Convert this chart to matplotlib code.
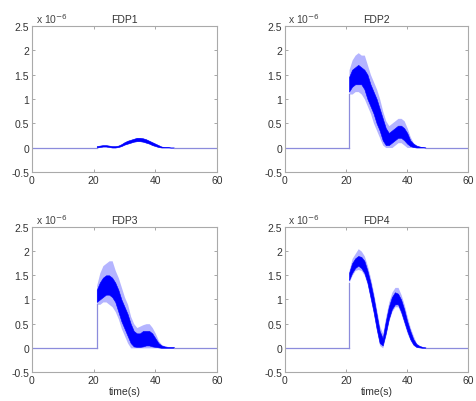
import numpy as np
import matplotlib
matplotlib.use("Agg")
import matplotlib.pyplot as plt

plt.rcParams['font.family'] = ['Liberation Sans', 'DejaVu Sans']

# time knots (s) for the envelopes, values in units of 1e-6
t_env = [21, 22, 23, 24, 25, 26, 27, 28, 29, 30, 31, 32, 33, 34, 35, 36, 37, 38, 39, 40,
         41, 42, 43, 44, 45, 46]

# FDP1
fdp1_lo = [0.00, 0.01, 0.02, 0.02, 0.01, 0.00, 0.00, 0.01, 0.03, 0.06, 0.08, 0.10, 0.12, 0.13,
           0.13, 0.12, 0.10, 0.08, 0.05, 0.03, 0.01, 0.00, 0.00, 0.00, 0.00, 0.00]
fdp1_hi = [0.03, 0.04, 0.05, 0.05, 0.04, 0.03, 0.03, 0.04, 0.07, 0.11, 0.14, 0.16, 0.18, 0.20,
           0.20, 0.19, 0.17, 0.14, 0.11, 0.08, 0.05, 0.02, 0.01, 0.01, 0.00, 0.00]
fdp1_olo = fdp1_lo
fdp1_ohi = fdp1_hi

# FDP2
fdp2_lo = [1.15, 1.25, 1.30, 1.30, 1.30, 1.20, 1.00, 0.85, 0.70, 0.50, 0.35, 0.15, 0.05, 0.05,
           0.10, 0.15, 0.20, 0.20, 0.15, 0.08, 0.03, 0.01, 0.00, 0.00, 0.00, 0.00]
fdp2_hi = [1.45, 1.60, 1.65, 1.70, 1.65, 1.60, 1.50, 1.30, 1.15, 1.00, 0.80, 0.60, 0.40, 0.30,
           0.35, 0.40, 0.45, 0.45, 0.40, 0.30, 0.15, 0.08, 0.04, 0.02, 0.01, 0.00]
fdp2_olo = [1.10, 1.10, 1.15, 1.15, 1.10, 1.00, 0.85, 0.70, 0.50, 0.35, 0.20, 0.05, 0.00, 0.00,
            0.00, 0.05, 0.10, 0.10, 0.05, 0.00, 0.00, 0.00, 0.00, 0.00, 0.00, 0.00]
fdp2_ohi = [1.60, 1.80, 1.90, 1.95, 1.90, 1.90, 1.70, 1.50, 1.35, 1.20, 1.00, 0.75, 0.55, 0.45,
            0.50, 0.55, 0.60, 0.60, 0.55, 0.40, 0.22, 0.10, 0.05, 0.03, 0.01, 0.00]

# FDP3
fdp3_lo = [0.95, 1.00, 1.05, 1.10, 1.10, 1.05, 0.95, 0.75, 0.55, 0.40, 0.25, 0.10, 0.03, 0.02,
           0.02, 0.03, 0.05, 0.05, 0.03, 0.02, 0.01, 0.00, 0.00, 0.00, 0.00, 0.00]
fdp3_hi = [1.20, 1.35, 1.45, 1.50, 1.50, 1.45, 1.35, 1.20, 1.00, 0.85, 0.70, 0.50, 0.35, 0.30,
           0.30, 0.35, 0.35, 0.35, 0.30, 0.20, 0.10, 0.05, 0.03, 0.02, 0.02, 0.02]
fdp3_olo = [0.90, 0.90, 0.95, 0.95, 0.90, 0.85, 0.75, 0.60, 0.40, 0.25, 0.10, 0.00, 0.00, 0.00,
            0.00, 0.00, 0.00, 0.00, 0.00, 0.00, 0.00, 0.00, 0.00, 0.00, 0.00, 0.00]
fdp3_ohi = [1.30, 1.55, 1.70, 1.75, 1.80, 1.80, 1.60, 1.45, 1.25, 1.05, 0.90, 0.65, 0.50, 0.42,
            0.45, 0.48, 0.50, 0.50, 0.42, 0.30, 0.15, 0.07, 0.04, 0.03, 0.02, 0.02]

# FDP4
fdp4_lo = [1.40, 1.55, 1.65, 1.70, 1.65, 1.55, 1.35, 1.05, 0.75, 0.40, 0.10, 0.05, 0.30, 0.60,
           0.80, 0.90, 0.90, 0.75, 0.55, 0.35, 0.18, 0.07, 0.02, 0.01, 0.00, 0.00]
fdp4_hi = [1.55, 1.75, 1.85, 1.90, 1.88, 1.80, 1.60, 1.35, 1.05, 0.70, 0.35, 0.20, 0.55, 0.85,
           1.05, 1.15, 1.12, 1.00, 0.80, 0.55, 0.35, 0.18, 0.08, 0.04, 0.02, 0.01]
fdp4_olo = [1.35, 1.50, 1.60, 1.62, 1.60, 1.50, 1.30, 1.00, 0.70, 0.35, 0.05, 0.00, 0.25, 0.55,
            0.75, 0.85, 0.85, 0.70, 0.50, 0.30, 0.15, 0.05, 0.01, 0.00, 0.00, 0.00]
fdp4_ohi = [1.60, 1.85, 1.95, 2.05, 2.00, 1.90, 1.70, 1.45, 1.15, 0.80, 0.45, 0.30, 0.65, 0.95,
            1.15, 1.25, 1.25, 1.10, 0.90, 0.65, 0.42, 0.25, 0.10, 0.05, 0.02, 0.01]

titles = ["FDP1", "FDP2", "FDP3", "FDP4"]
cores = [(fdp1_lo, fdp1_hi), (fdp2_lo, fdp2_hi), (fdp3_lo, fdp3_hi), (fdp4_lo, fdp4_hi)]
outers = [(fdp1_olo, fdp1_ohi), (fdp2_olo, fdp2_ohi), (fdp3_olo, fdp3_ohi), (fdp4_olo, fdp4_ohi)]

t_start = 21
t_end = 60

fig = plt.figure(figsize=(4.77, 4.02), dpi=100)
positions = [[0.067, 0.570, 0.388, 0.363],
             [0.597, 0.570, 0.385, 0.363],
             [0.067, 0.072, 0.388, 0.361],
             [0.597, 0.072, 0.385, 0.361]]

for i in range(4):
    ax = fig.add_axes(positions[i])
    lo, hi = cores[i]
    olo, ohi = outers[i]
    t = np.array(t_env)
    # baseline before and after the event
    ax.plot([0, t_start], [0, 0], color='#8c8cdc', lw=0.9)
    ax.plot([t_env[-1], t_end], [0, 0], color='#8c8cdc', lw=0.9)
    ax.plot([t_start, t_start], [0, olo[0] * 1e-6], color='#8c8cdc', lw=0.9)
    ax.fill_between(t, np.array(olo) * 1e-6, np.array(ohi) * 1e-6,
                    color='#6a6aff', alpha=0.5, lw=0)
    ax.fill_between(t, np.array(lo) * 1e-6, np.array(hi) * 1e-6,
                    color='#0000ff', lw=0.4, edgecolor='#0000ff')
    ax.set_xlim(0, 60)
    ax.set_ylim(-0.5e-6, 2.5e-6)
    ax.set_xticks([0, 20, 40, 60])
    ax.set_yticks(np.array([-0.5, 0, 0.5, 1, 1.5, 2, 2.5]) * 1e-6)
    ax.set_yticklabels(["-0.5", "0", "0.5", "1", "1.5", "2", "2.5"])
    ax.tick_params(direction='in', length=2.5, width=0.6, labelsize=7.5,
                   top=True, right=True, colors='#999999', labelcolor='#333333', pad=2)
    for s in ax.spines.values():
        s.set_color('#aaaaaa')
        s.set_linewidth(0.8)
    ax.set_title(titles[i], fontsize=7.5, color='#333333', pad=3)
    ax.text(0.02, 1.005, r"x 10$^{-6}$", transform=ax.transAxes, fontsize=7.5,
            color='#444444', va='bottom', ha='left')
    if i >= 2:
        ax.set_xlabel("time(s)", fontsize=7.5, color='#333333', labelpad=1)

fig.savefig("out.png", dpi=100)
